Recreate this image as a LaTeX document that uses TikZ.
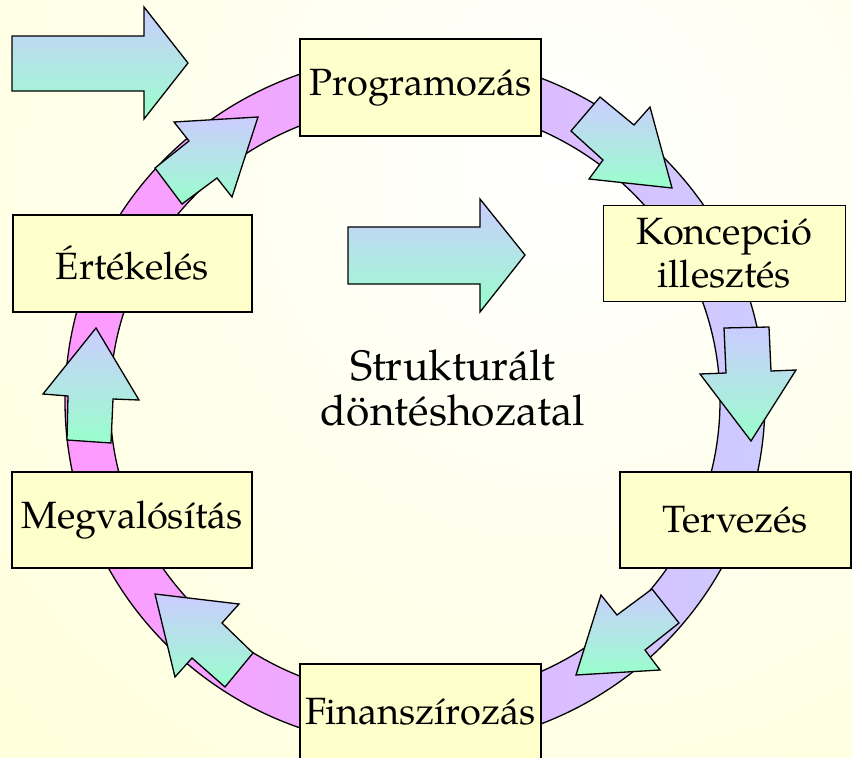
\documentclass[tikz,border=0pt]{standalone}
\usepackage{fontspec}
\setmainfont{TeX Gyre Pagella}
\definecolor{boxyellow}{RGB}{255,255,204}
\definecolor{bgyellow}{RGB}{255,255,190}
\definecolor{arrowtop}{RGB}{204,204,255}
\definecolor{arrowbottom}{RGB}{153,255,204}
\definecolor{ringpink}{RGB}{255,153,255}
\definecolor{ringlav}{RGB}{204,204,255}
\begin{document}
\begin{tikzpicture}[x=1pt,y=-1pt,
  outline/.style={draw=black, line width=1.3pt, line join=miter},
  stagebox/.style={outline, fill=boxyellow, inner sep=0pt, align=center,
    font=\fontsize{38}{43}\selectfont},
  blockarrow/.style={outline, top color=arrowtop, bottom color=arrowbottom},
  ring/.style={outline, left color=ringpink, right color=ringlav, even odd rule}]

% page and soft radial background
\clip (0,0) rectangle (852,758);
\shade[inner color=white, outer color=bgyellow] (-880,-1270) rectangle (2000,1610);

% the cycle ring
\path[ring] (415,401) ellipse [x radius=350, y radius=346]
            (415,401) ellipse [x radius=305, y radius=297];

% block arrows along the ring
\path[blockarrow] (155,168) -- (182,204) -- (217,178) -- (232,197) -- (258,117)
  -- (174,122) -- (189,141) -- cycle;
\path[blockarrow] (600,97) -- (571,131) -- (603,160) -- (589,179) -- (672,188)
  -- (650,107) -- (634,125) -- cycle;
\path[blockarrow] (724,328) -- (769,327) -- (771,371) -- (796,370) -- (751,441)
  -- (700,374) -- (726,373) -- cycle;
\path[blockarrow] (652,589) -- (679,623) -- (645,650) -- (660,670) -- (576,675)
  -- (601,595) -- (617,615) -- cycle;
\path[blockarrow] (253,653) -- (225,687) -- (192,658) -- (175,677) -- (155,594)
  -- (239,604) -- (222,623) -- cycle;
\path[blockarrow] (111,443) -- (67,440) -- (68,396) -- (43,394) -- (96,328)
  -- (139,400) -- (113,399) -- cycle;

% free-standing arrows
\path[blockarrow] (12,36) -- (144,36) -- (144,7) -- (188,63) -- (144,119)
  -- (144,91) -- (12,91) -- cycle;
\path[blockarrow] (348,227) -- (480,227) -- (480,199) -- (525,255) -- (480,312)
  -- (480,284) -- (348,284) -- cycle;

% stages
\node[stagebox, minimum width=241, minimum height=97] (prog) at (420.5,87.5) {Programozás};
\node[stagebox, minimum width=242, minimum height=96] (konc) at (724.5,253.5) {Koncepció\\illesztés};
\node[stagebox, minimum width=231, minimum height=96] (terv) at (735.5,520) {Tervezés};
\node[stagebox, minimum width=241, minimum height=96] (fin) at (420.5,712) {Finanszírozás};
\node[stagebox, minimum width=240, minimum height=96] (megv) at (132,520) {Megvalósítás};
\node[stagebox, minimum width=239, minimum height=97] (ert) at (132.5,263.5) {Értékelés};

% centre caption
\node[align=center, font=\fontsize{42.5}{45}\selectfont] (core) at (453,388)
  {Strukturált\\döntéshozatal};
\end{tikzpicture}
\end{document}
